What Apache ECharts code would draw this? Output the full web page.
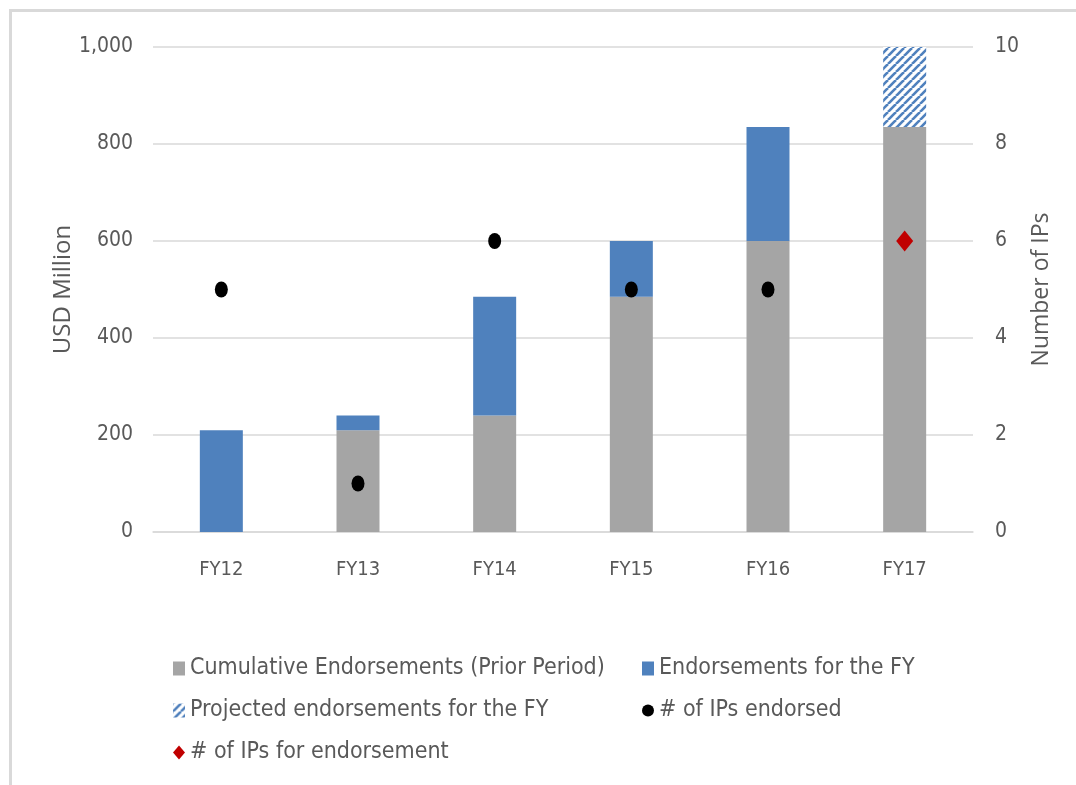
<!DOCTYPE html>
<html>
<head>
<meta charset="utf-8">
<script src="https://cdn.jsdelivr.net/npm/echarts@6/dist/echarts.min.js"></script>
<style>
    html, body { margin: 0; padding: 0; background: #fff; }
    #frame {
        position: absolute; left: 9px; top: 9px; right: 0; bottom: 0;
        border-left: 3px solid #d9d9d9; border-top: 3px solid #d9d9d9;
    }
    #chart { position: absolute; left: 0; top: 0; width: 1076px; height: 785px; }
</style>
</head>
<body>
<div id="frame"></div>
<div id="chart"></div>
<script>
// fiscal years and values
const years = ['FY12', 'FY13', 'FY14', 'FY15', 'FY16', 'FY17'];
const cumulativePrior = [null, 210, 240, 485, 600, 835];
const endorsedFY = [210, 30, 245, 115, 235, null];
const projectedFY = [null, null, null, null, null, 165];
const ipsEndorsed = [5, 1, 6, 5, 5, null];
const ipsForEndorsement = [null, null, null, null, null, 6];

const textFont = '"Liberation Sans Narrow", "DejaVu Sans Condensed", sans-serif';
const gray = '#595959';

// diagonal hatch for the projected part
function hatch() {
    const s = 8;
    const c = document.createElement('canvas');
    c.width = s; c.height = s;
    const ctx = c.getContext('2d');
    ctx.fillStyle = '#fff';
    ctx.fillRect(0, 0, s, s);
    ctx.strokeStyle = '#4f81bd';
    ctx.lineWidth = 2.6;
    [-s, 0, s].forEach(o => {
        ctx.beginPath();
        ctx.moveTo(o, s);
        ctx.lineTo(o + s, 0);
        ctx.stroke();
    });
    return c;
}

const chart = echarts.init(document.getElementById('chart'));

const legendBase = {
    orient: 'vertical',
    top: 652,
    itemGap: 19,
    itemWidth: 12,
    itemHeight: 14,
    selectedMode: false,
    textStyle: { color: gray, fontSize: 23, fontFamily: textFont, lineHeight: 23 }
};

chart.setOption({
    animation: false,
    grid: { left: 153, right: 103, top: 47, bottom: 253 },
    legend: [
        Object.assign({}, legendBase, {
            left: 168,
            data: [
                { name: 'Cumulative Endorsements (Prior Period)', icon: 'rect' },
                { name: 'Projected endorsements for the FY', icon: 'rect' },
                { name: '# of IPs for endorsement', icon: 'diamond' }
            ]
        }),
        Object.assign({}, legendBase, {
            left: 637,
            data: [
                { name: 'Endorsements for the FY', icon: 'rect' },
                { name: '# of IPs endorsed', icon: 'circle' }
            ]
        })
    ],
    xAxis: {
        type: 'category',
        data: years,
        axisTick: { show: false },
        axisLine: { lineStyle: { color: '#d9d9d9', width: 1.5 } },
        axisLabel: { color: gray, fontSize: 20, fontFamily: textFont, margin: 28 }
    },
    yAxis: [
        {
            type: 'value',
            min: 0, max: 1000, interval: 200,
            name: 'USD Million',
            nameLocation: 'middle',
            nameGap: 78,
            nameMoveOverlap: false,
            nameTextStyle: { color: gray, fontSize: 24, fontFamily: '"Open Sans", sans-serif' },
            axisLabel: {
                color: gray, fontSize: 21, fontFamily: textFont, margin: 20,
                formatter: v => v.toLocaleString('en-US')
            },
            splitLine: { lineStyle: { color: '#d9d9d9', width: 1.5 } }
        },
        {
            type: 'value',
            min: 0, max: 10, interval: 2,
            name: 'Number of IPs',
            nameLocation: 'middle',
            nameGap: 54,
            nameRotate: 90,
            nameTextStyle: { color: gray, fontSize: 23, fontFamily: '"Open Sans", sans-serif' },
            axisLabel: { color: gray, fontSize: 21, fontFamily: textFont, margin: 22 },
            splitLine: { show: false }
        }
    ],
    series: [
        {
            name: 'Cumulative Endorsements (Prior Period)',
            type: 'bar', stack: 'total', barWidth: 43,
            data: cumulativePrior,
            itemStyle: { color: '#a5a5a5' }
        },
        {
            name: 'Endorsements for the FY',
            type: 'bar', stack: 'total', barWidth: 43,
            data: endorsedFY,
            itemStyle: { color: '#4f81bd' }
        },
        {
            name: 'Projected endorsements for the FY',
            type: 'bar', stack: 'total', barWidth: 43,
            data: projectedFY,
            itemStyle: { color: { image: hatch(), repeat: 'repeat' } }
        },
        {
            name: '# of IPs endorsed',
            type: 'scatter', yAxisIndex: 1,
            symbol: 'circle', symbolSize: [13, 16],
            data: ipsEndorsed,
            itemStyle: { color: '#000', opacity: 1 },
            z: 5
        },
        {
            name: '# of IPs for endorsement',
            type: 'scatter', yAxisIndex: 1,
            symbol: 'diamond', symbolSize: [17, 21],
            data: ipsForEndorsement,
            itemStyle: { color: '#c00000', opacity: 1 },
            z: 5
        }
    ]
});
</script>
</body>
</html>
